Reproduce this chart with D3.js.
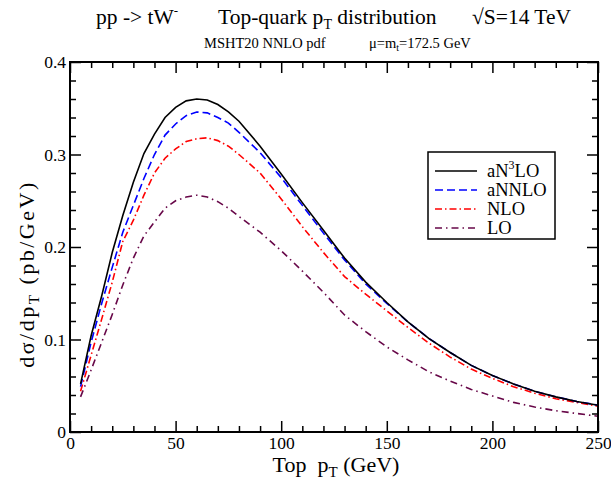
<!DOCTYPE html>
<html>
<head>
<meta charset="utf-8">
<script src="https://cdn.jsdelivr.net/npm/d3@7"></script>
<style>
  body { margin: 0; background: #fff; }
  svg text { font-family: "Liberation Serif", "Times New Roman", serif; fill: #000; }
</style>
</head>
<body>
<svg id="chart" width="611" height="482"></svg>
<script>
// transverse momentum grid (GeV)
var pt = [5, 10, 15, 20, 25, 30, 35, 40, 45, 50, 55, 60, 65, 70, 75, 80, 90, 100,
  110, 120, 130, 140, 150, 160, 170, 180, 190, 200, 210, 220, 230, 240, 250];

// d sigma / d pT (pb/GeV)
var an3lo = [0.052, 0.104, 0.147, 0.194, 0.234, 0.270, 0.301, 0.322, 0.340, 0.351, 0.358, 0.360, 0.359,
  0.354, 0.346, 0.336, 0.309, 0.279, 0.248, 0.218, 0.188, 0.162, 0.140, 0.119, 0.101, 0.086, 0.072,
  0.061, 0.052, 0.044, 0.038, 0.033, 0.029];
var annlo = [0.049, 0.097, 0.139, 0.178, 0.216, 0.245, 0.274, 0.300, 0.321, 0.333, 0.342, 0.346, 0.345,
  0.340, 0.334, 0.324, 0.302, 0.275, 0.245, 0.215, 0.186, 0.160, 0.139, 0.119, 0.101, 0.086, 0.072,
  0.061, 0.052, 0.044, 0.038, 0.033, 0.029];
var nlo = [0.044, 0.083, 0.122, 0.162, 0.206, 0.229, 0.256, 0.280, 0.296, 0.306, 0.314, 0.317, 0.318,
  0.315, 0.309, 0.300, 0.280, 0.252, 0.222, 0.194, 0.168, 0.149, 0.131, 0.113, 0.096, 0.081, 0.068,
  0.058, 0.049, 0.042, 0.036, 0.032, 0.028];
var lo = [0.038, 0.067, 0.097, 0.127, 0.159, 0.188, 0.212, 0.227, 0.242, 0.250, 0.254, 0.256, 0.254,
  0.249, 0.242, 0.233, 0.216, 0.196, 0.174, 0.151, 0.1265, 0.1085, 0.092, 0.078, 0.065, 0.055, 0.046,
  0.039, 0.032, 0.027, 0.023, 0.020, 0.017];

var xMajor = [0, 50, 100, 150, 200, 250];
var yMajor = [0, 0.1, 0.2, 0.3, 0.4];

var series = [
  {name: "aN3LO", values: an3lo, color: "#000000", dash: null},
  {name: "aNNLO", values: annlo, color: "#0000ff", dash: "8,4"},
  {name: "NLO", values: nlo, color: "#ff0000", dash: "7,3,1.5,3"},
  {name: "LO", values: lo, color: "#670748", dash: "7,4,1.5,4"}
];

var svg = d3.select("#chart");
var pLeft = 70, pRight = 598, pTop = 62, pBottom = 432;

var x = d3.scaleLinear().domain([0, 250]).range([pLeft, pRight]);
var y = d3.scaleLinear().domain([0, 0.4]).range([pBottom, pTop]);

var xMinor = d3.range(0, 251, 10).filter(function (v) { return v % 50 != 0; });
var yMinor = d3.range(0, 0.401, 0.02).filter(function (v) { return Math.abs(v * 10 - Math.round(v * 10)) > 1e-6; });

function tickStyle(g) {
  g.select(".domain").remove();
  g.selectAll(".tick line").attr("stroke", "#000").attr("stroke-width", 1.5);
}

// bottom axis with labels
svg.append("g").attr("transform", "translate(0," + pBottom + ")")
  .call(d3.axisBottom(x).tickValues(xMajor).tickSize(-11).tickPadding(4).tickFormat(d3.format("d")))
  .call(tickStyle)
  .selectAll("text").attr("font-size", 17.5).attr("dy", "0.75em");
svg.append("g").attr("transform", "translate(0," + pBottom + ")")
  .call(d3.axisBottom(x).tickValues(xMinor).tickSize(-6).tickFormat(""))
  .call(tickStyle);
// top axis
svg.append("g").attr("transform", "translate(0," + pTop + ")")
  .call(d3.axisTop(x).tickValues(xMajor).tickSize(-11).tickFormat(""))
  .call(tickStyle);
svg.append("g").attr("transform", "translate(0," + pTop + ")")
  .call(d3.axisTop(x).tickValues(xMinor).tickSize(-6).tickFormat(""))
  .call(tickStyle);
// left axis with labels
svg.append("g").attr("transform", "translate(" + pLeft + ",0)")
  .call(d3.axisLeft(y).tickValues(yMajor).tickSize(-11).tickPadding(4)
    .tickFormat(function (d) { return d == 0 ? "0" : d3.format(".1f")(d); }))
  .call(tickStyle)
  .selectAll("text").attr("font-size", 17.5);
svg.append("g").attr("transform", "translate(" + pLeft + ",0)")
  .call(d3.axisLeft(y).tickValues(yMinor).tickSize(-6).tickFormat(""))
  .call(tickStyle);
// right axis
svg.append("g").attr("transform", "translate(" + pRight + ",0)")
  .call(d3.axisRight(y).tickValues(yMajor).tickSize(-11).tickFormat(""))
  .call(tickStyle);
svg.append("g").attr("transform", "translate(" + pRight + ",0)")
  .call(d3.axisRight(y).tickValues(yMinor).tickSize(-6).tickFormat(""))
  .call(tickStyle);

// curves
var line = d3.line()
  .x(function (d, i) { return x(pt[i]); })
  .y(function (d) { return y(d); });

series.slice().reverse().forEach(function (s) {
  svg.append("path")
    .attr("d", line(s.values))
    .attr("fill", "none")
    .attr("stroke", s.color)
    .attr("stroke-width", 1.6)
    .attr("stroke-dasharray", s.dash);
});

// frame
svg.append("rect")
  .attr("x", pLeft).attr("y", pTop)
  .attr("width", pRight - pLeft).attr("height", pBottom - pTop)
  .attr("fill", "none").attr("stroke", "#000").attr("stroke-width", 2);

// legend
var lg = svg.append("g");
lg.append("rect").attr("x", 428).attr("y", 152).attr("width", 127).attr("height", 87)
  .attr("fill", "#fff").attr("stroke", "#000").attr("stroke-width", 1.5);
series.forEach(function (s, i) {
  var yy = 171 + i * 19;
  lg.append("line").attr("x1", 435).attr("x2", 477).attr("y1", yy).attr("y2", yy)
    .attr("stroke", s.color).attr("stroke-width", 1.6).attr("stroke-dasharray", s.dash);
  var t = lg.append("text").attr("x", 487).attr("y", yy + 6).attr("font-size", 18.5);
  if (s.name == "aN3LO") {
    t.append("tspan").text("aN");
    t.append("tspan").attr("font-size", 12).attr("dy", -8).text("3");
    t.append("tspan").attr("dy", 8).text("LO");
  } else {
    t.text(s.name);
  }
});

// titles
var t1 = svg.append("text").attr("x", 96).attr("y", 24).attr("font-size", 21.5);
t1.append("tspan").text("pp -> tW");
t1.append("tspan").attr("font-size", 13).attr("dy", -9).text("-");

var t2 = svg.append("text").attr("x", 218).attr("y", 24).attr("font-size", 21.5);
t2.append("tspan").text("Top-quark p");
t2.append("tspan").attr("font-size", 14).attr("dy", 5).text("T");
t2.append("tspan").attr("dy", -5).text(" distribution");

svg.append("text").attr("x", 472).attr("y", 24).attr("font-size", 21.5).text("\u221aS=14 TeV");

svg.append("text").attr("x", 204).attr("y", 48).attr("font-size", 14.5).text("MSHT20 NNLO pdf");
var sub = svg.append("text").attr("x", 369).attr("y", 48).attr("font-size", 14.5);
sub.append("tspan").text("\u03bc=m");
sub.append("tspan").attr("font-size", 10).attr("dy", 3).text("t");
sub.append("tspan").attr("dy", -3).text("=172.5 GeV");

// x label
var xl = svg.append("text").attr("x", 336).attr("y", 472).attr("font-size", 22).attr("text-anchor", "middle");
xl.append("tspan").attr("xml:space", "preserve").text("Top  p");
xl.append("tspan").attr("font-size", 15).attr("dy", 5).text("T");
xl.append("tspan").attr("dy", -5).text(" (GeV)");

// y label
var yl = svg.append("text").attr("transform", "translate(34,274) rotate(-90)")
  .attr("font-size", 22).attr("letter-spacing", 2.5).attr("text-anchor", "middle");
yl.append("tspan").text("d\u03c3/dp");
yl.append("tspan").attr("font-size", 15).attr("dy", 5).text("T");
yl.append("tspan").attr("dy", -5).text(" (pb/GeV)");
</script>
</body>
</html>
